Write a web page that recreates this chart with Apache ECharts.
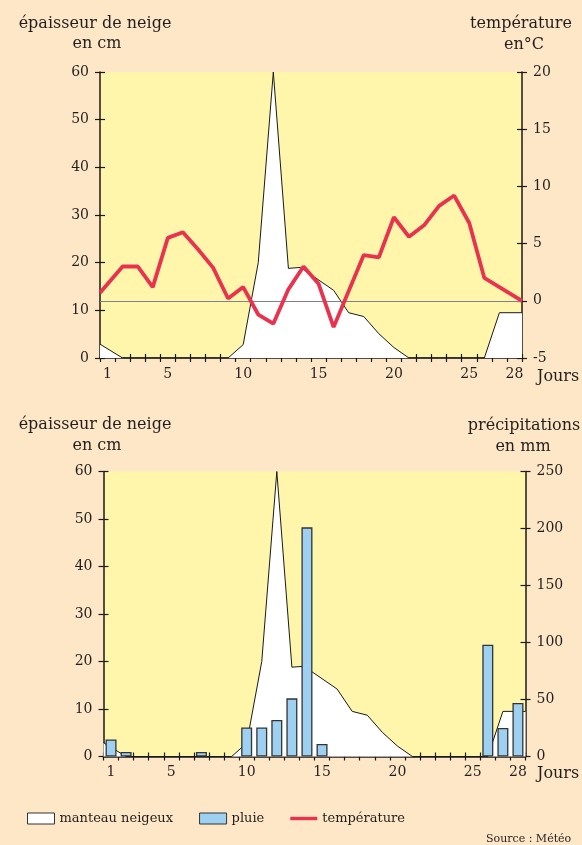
<!DOCTYPE html>
<html>
<head>
<meta charset="utf-8">
<script src="https://cdn.jsdelivr.net/npm/echarts@6/dist/echarts.min.js"></script>
<style>
html,body{margin:0;padding:0;background:#FDE7C6;}
#c{width:582px;height:845px;}
</style>
</head>
<body>
<div id="c"></div>
<script>
// ---- data ----
const days = ['1','2','3','4','5','6','7','8','9','10','11','12','13','14','15','16','17','18','19','20','21','22','23','24','25','26','27','28'];
const xTickLabels = ['1','5','10','15','20','25','28'];
// snow cover (day position, cm)
const snowDepth = [[0.5,2.9],[2,0],[9,0],[10,2.8],[11,20],[12,60],[13,18.8],[13.8,19],[16,14.2],[17,9.5],[18,8.7],[19,5.1],[20,2.2],[21,0],[26,0],[27,9.5],[28.5,9.5]];
// temperature (day position, °C)
const temperature = [[0.5,0.7],[2,3.0],[3,3.0],[4,1.2],[5,5.5],[6,6.0],[7,4.5],[8,2.9],[9,0.2],[10,1.2],[11,-1.2],[12,-2.0],[13,1.0],[14,3.0],[15,1.5],[16,-2.3],[18,4.0],[19,3.8],[20,7.3],[21,5.6],[22,6.6],[23,8.3],[24,9.2],[25,6.8],[26,2.0],[27,1.2],[28.5,0]];
// rain (mm) per day, '-' = none
const rain = [15,4,'-','-','-','-',4,'-','-',25.5,25.5,32,51,201,11,'-','-','-','-','-','-','-','-','-','-',98,25,47];
const snowTicks = {min:0,max:60,interval:10};
const tempTicks = {min:-5,max:20,interval:5};
const rainTicks = {min:0,max:250,interval:50};

// ---- styles ----
const FONT = 'DejaVu Serif';
const TXT = '#231f20';
const AX = '#1a1a1a';
const YELLOW = '#FFF6AC';
const BG = '#FDE7C6';
const RED = '#E8324E';
const BLUE = '#9ED1F1';

function yMain(grid, pos, t){
  return Object.assign({type:'value', gridIndex:grid, position:pos,
    axisLine:{show:true,onZero:false,lineStyle:{color:AX,width:1.5}},
    axisTick:{show:true,length:5,lineStyle:{color:AX,width:1.2}},
    axisLabel:{fontFamily:FONT,fontSize:14,color:TXT,margin:11},
    splitLine:{show:false}}, t);
}
function yDup(grid, pos, t){
  return Object.assign({type:'value', gridIndex:grid, position:pos,
    axisLine:{show:false,onZero:false},
    axisTick:{show:true,inside:true,length:5,lineStyle:{color:AX,width:1.2}},
    axisLabel:{show:false}, splitLine:{show:false}}, t);
}
function xMain(grid){
  return {type:'category', gridIndex:grid, data:days, position:'bottom',
    axisLine:{show:true,onZero:false,lineStyle:{color:AX,width:1.5}},
    axisTick:{show:true,length:4,interval:0,lineStyle:{color:AX,width:1.2}},
    axisLabel:{fontFamily:FONT,fontSize:14,color:TXT,margin:9,
      interval:function(i,v){return xTickLabels.indexOf(v)>=0;}},
    splitLine:{show:false}};
}
function xDup(grid){
  return {type:'category', gridIndex:grid, data:days, position:'bottom',
    axisLine:{show:false,onZero:false},
    axisTick:{show:true,inside:true,length:4,interval:0,lineStyle:{color:AX,width:1.2}},
    axisLabel:{show:false}, splitLine:{show:false}};
}
function xVal(grid){
  return {type:'value', gridIndex:grid, min:0.5, max:28.5, show:false, axisLine:{onZero:false}};
}
function txt(s, x, y, size, align){
  return {type:'text', x:x, y:y, z:10, style:{text:s, fontFamily:FONT, fontSize:size||16, fill:TXT,
    align:align||'center', textAlign:align||'center', verticalAlign:'middle', textVerticalAlign:'middle'}};
}

const chart = echarts.init(document.getElementById('c'));
chart.setOption({
  backgroundColor: BG,
  animation:false,
  grid:[
    {left:100, top:72, width:422, height:286, show:true, backgroundColor:YELLOW, borderWidth:0},
    {left:103.5, top:471.5, width:422, height:285, show:true, backgroundColor:YELLOW, borderWidth:0}
  ],
  xAxis:[xMain(0), xDup(0), xVal(0), xMain(1), xDup(1), xVal(1)],
  yAxis:[
    yMain(0,'left',snowTicks), yMain(0,'right',tempTicks), yDup(0,'left',snowTicks), yDup(0,'right',tempTicks),
    yMain(1,'left',snowTicks), yMain(1,'right',rainTicks), yDup(1,'left',snowTicks), yDup(1,'right',rainTicks)
  ],
  legend:{
    left:27, top:812, padding:0, itemWidth:27, itemHeight:11, itemGap:26,
    textStyle:{fontFamily:FONT,fontSize:13,color:TXT},
    data:[
      {name:'manteau neigeux', icon:'rect', itemStyle:{color:'#ffffff',borderColor:'#333',borderWidth:1}},
      {name:'pluie', icon:'rect', itemStyle:{color:BLUE,borderColor:'#333',borderWidth:1}},
      {name:'température', icon:'path://M0,0H28V3.5H0Z', itemStyle:{color:RED,borderWidth:0}}
    ]
  },
  series:[
    {name:'manteau neigeux', type:'line', xAxisIndex:2, yAxisIndex:0, data:snowDepth, symbol:'none', z:2,
      lineStyle:{color:AX,width:1}, areaStyle:{color:'#ffffff',opacity:1}},
    {name:'température', type:'line', xAxisIndex:2, yAxisIndex:1, data:temperature, symbol:'none', z:4,
      lineStyle:{color:RED,width:3.8}, itemStyle:{color:RED},
      markLine:{silent:true, z:3, symbol:['none','none'], label:{show:false},
        lineStyle:{color:'#7c8196',width:1,type:'solid'}, data:[{yAxis:0}]}},
    {name:'manteau neigeux', type:'line', xAxisIndex:5, yAxisIndex:4, data:snowDepth, symbol:'none', z:2,
      lineStyle:{color:AX,width:1}, areaStyle:{color:'#ffffff',opacity:1}},
    {name:'pluie', type:'bar', xAxisIndex:3, yAxisIndex:5, data:rain, barWidth:11, z:3,
      itemStyle:{color:BLUE,borderColor:'#333',borderWidth:1.3}}
  ],
  graphic:[
    txt('épaisseur de neige', 95, 24),
    txt('en cm', 97, 44),
    txt('température', 521, 24),
    txt('en°C', 524, 45),
    txt('Jours', 537, 377, 16, 'left'),
    txt('épaisseur de neige', 95, 425),
    txt('en cm', 97, 446),
    txt('précipitations', 524, 426),
    txt('en mm', 523, 447),
    txt('Jours', 537, 774, 16, 'left'),
    txt('Source : Météo', 486, 839, 11, 'left')
  ]
});
</script>
</body>
</html>
